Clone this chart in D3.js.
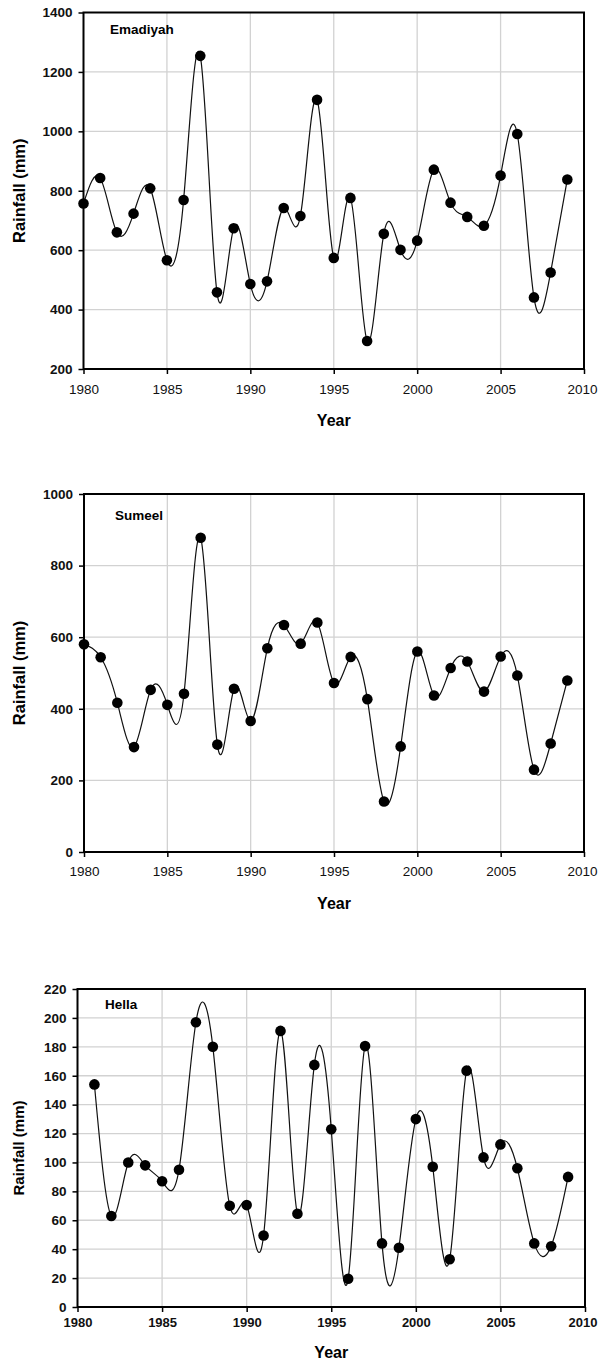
<!DOCTYPE html>
<html>
<head>
<meta charset="utf-8">
<script src="https://cdn.jsdelivr.net/npm/d3@7"></script>
<style>
  body { margin: 0; background: #fff; }
  svg { display: block; font-family: 'Liberation Sans', Arial, sans-serif; }
</style>
</head>
<body>
<div id="chart"></div>
<script>
// annual rainfall (mm)
const years = d3.range(1980, 2010)
const emadiyah = [757, 843, 660, 723, 808, 566, 769, 1254, 458, 674,
  486, 495, 742, 715, 1106, 574, 776, 294, 655, 601,
  632, 871, 760, 712, 682, 851, 991, 441, 525, 838]
const sumeel = [580, 544, 417, 293, 453, 411, 442, 878, 300, 456,
  366, 569, 634, 582, 641, 472, 545, 427, 141, 295,
  560, 437, 514, 532, 448, 546, 493, 230, 303, 479]
const hellaYears = d3.range(1981, 2010)
const hella = [154, 63, 100, 98, 87, 95, 197, 180, 70,
  70.5, 49.5, 191, 64.5, 167.5, 123, 19.5, 180.5, 44, 41,
  130, 97, 33, 163.5, 103.5, 112.5, 96, 44, 42, 90]

const xTicks = [1980, 1985, 1990, 1995, 2000, 2005, 2010]
const emadiyahTicks = [200, 400, 600, 800, 1000, 1200, 1400]
const sumeelTicks = [0, 200, 400, 600, 800, 1000]
const hellaTicks = d3.range(0, 221, 20)

const panels = [
  { name: 'Emadiyah', years: years, values: emadiyah, yTicks: emadiyahTicks,
    box: { l: 83.5, r: 584, t: 12.5, b: 369 }, nameX: 110, nameY: 29,
    xBold: false, xPad: 10, yearY: 420, rainSize: 16.5 },
  { name: 'Sumeel', years: years, values: sumeel, yTicks: sumeelTicks,
    box: { l: 84, r: 584, t: 494, b: 852 }, nameX: 115, nameY: 515,
    xBold: false, xPad: 9, yearY: 903, rainSize: 16.5 },
  { name: 'Hella', years: hellaYears, values: hella, yTicks: hellaTicks,
    box: { l: 77.5, r: 585, t: 989, b: 1307 }, nameX: 105, nameY: 1004,
    xBold: true, xPad: 6, yearY: 1352, rainSize: 15 }
]

const svg = d3
  .select('#chart')
  .append('svg')
  .attr('width', 598)
  .attr('height', 1360)

panels.forEach(drawPanel)

function drawPanel(p) {
  const b = p.box
  const x = d3.scaleLinear().domain([1980, 2010]).range([b.l, b.r])
  const y = d3
    .scaleLinear()
    .domain(d3.extent(p.yTicks))
    .range([b.b, b.t])

  const g = svg.append('g').attr('class', 'panel')

  // grid
  g.append('g')
    .selectAll('line')
    .data(xTicks.slice(1, -1))
    .join('line')
    .attr('x1', d => x(d))
    .attr('x2', d => x(d))
    .attr('y1', b.t)
    .attr('y2', b.b)
    .attr('stroke', '#d2d2d2')
    .attr('stroke-width', 1.3)
  g.append('g')
    .selectAll('line')
    .data(p.yTicks.slice(1, -1))
    .join('line')
    .attr('x1', b.l)
    .attr('x2', b.r)
    .attr('y1', d => y(d))
    .attr('y2', d => y(d))
    .attr('stroke', '#d2d2d2')
    .attr('stroke-width', 1.3)

  // axes
  const xAxis = g
    .append('g')
    .attr('transform', `translate(0,${b.b})`)
    .call(d3.axisBottom(x).tickValues(xTicks).tickFormat(d3.format('d')).tickSize(5).tickPadding(p.xPad))
  xAxis.select('.domain').remove()
  xAxis
    .selectAll('text')
    .style('font-size', p.xBold ? '13px' : '13.5px')
    .style('font-weight', p.xBold ? 'bold' : 'normal')
    .attr('fill', '#111')
  // keep the last year label inside the page
  xAxis
    .selectAll('.tick')
    .filter(d => d === 2010)
    .select('text')
    .attr('text-anchor', 'end')
    .attr('x', 597 - b.r)

  const yAxis = g
    .append('g')
    .attr('transform', `translate(${b.l},0)`)
    .call(d3.axisLeft(y).tickValues(p.yTicks).tickFormat(d3.format('d')).tickSize(5).tickPadding(6))
  yAxis.select('.domain').remove()
  yAxis
    .selectAll('text')
    .style('font-size', '13.5px')
    .style('font-weight', 'bold')
    .attr('fill', '#111')
  g.selectAll('.tick line').attr('stroke', '#000').attr('stroke-width', 1.5)

  // frame
  g.append('rect')
    .attr('x', b.l)
    .attr('y', b.t)
    .attr('width', b.r - b.l)
    .attr('height', b.b - b.t)
    .attr('fill', 'none')
    .attr('stroke', '#000')
    .attr('stroke-width', 2)

  const pts = p.years.map((yr, i) => [yr, p.values[i]])

  const line = d3
    .line()
    .x(d => x(d[0]))
    .y(d => y(d[1]))
    .curve(d3.curveNatural)

  g.append('path')
    .datum(pts)
    .attr('d', line)
    .attr('fill', 'none')
    .attr('stroke', '#111')
    .attr('stroke-width', 1.2)

  g.append('g')
    .selectAll('circle')
    .data(pts)
    .join('circle')
    .attr('cx', d => x(d[0]))
    .attr('cy', d => y(d[1]))
    .attr('r', 5.3)
    .attr('fill', '#000')

  g.append('text')
    .attr('x', p.nameX)
    .attr('y', p.nameY)
    .attr('dy', '0.35em')
    .style('font-size', '13.5px')
    .style('font-weight', 'bold')
    .text(p.name)

  g.append('text')
    .attr('x', (b.l + b.r) / 2)
    .attr('y', p.yearY)
    .attr('dy', '0.35em')
    .attr('text-anchor', 'middle')
    .style('font-size', '16px')
    .style('font-weight', 'bold')
    .text('Year')

  g.append('text')
    .attr('transform', `translate(19,${(b.t + b.b) / 2}) rotate(-90)`)
    .attr('dy', '0.35em')
    .attr('text-anchor', 'middle')
    .style('font-size', p.rainSize + 'px')
    .style('font-weight', 'bold')
    .text('Rainfall (mm)')
}
</script>
</body>
</html>
